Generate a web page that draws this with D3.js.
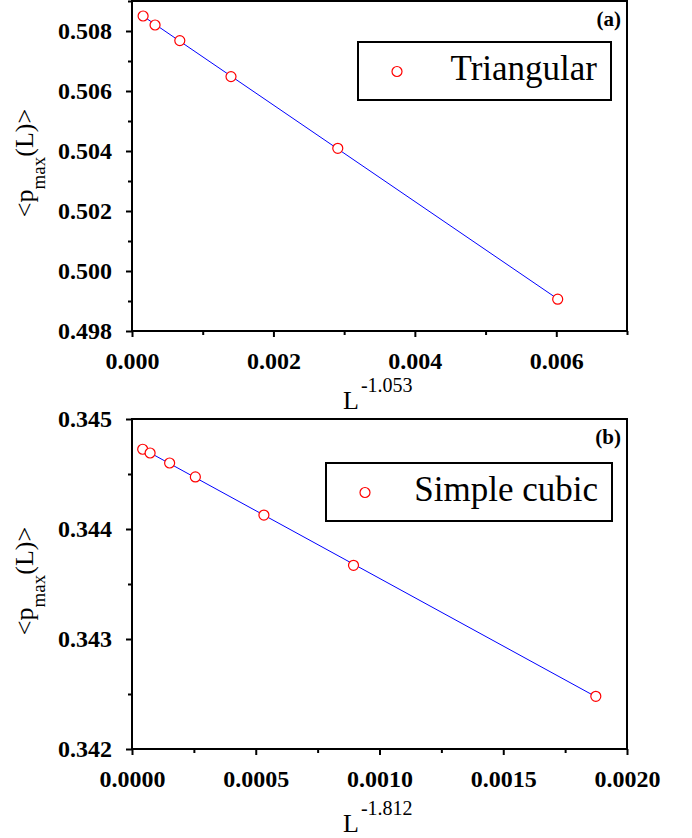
<!DOCTYPE html>
<html><head><meta charset="utf-8">
<script src="https://cdn.jsdelivr.net/npm/d3@7"></script>
<style>body{margin:0;background:#fff}svg{display:block}
svg text{font-family:"Liberation Serif","Times New Roman",Times,"DejaVu Serif",serif;}
</style>
</head><body><svg id="c" width="692" height="838"></svg>
<script>
// ---- data ----
const triX = [0.000157, 0.000326, 0.000676, 0.00140, 0.00291, 0.00602];
const triY = [0.50850, 0.50820, 0.50768, 0.50648, 0.50409, 0.49906];
const scX = [0.0000432, 0.0000731, 0.000152, 0.000256, 0.000533, 0.000895, 0.001874];
const scY = [0.344725, 0.344691, 0.344600, 0.344473, 0.344127, 0.343670, 0.342479];
const triXTicks = [0, 0.002, 0.004, 0.006];
const triXMinor = [0.001, 0.003, 0.005, 0.007];
const triYTicks = [0.498, 0.500, 0.502, 0.504, 0.506, 0.508];
const triYMinor = [0.499, 0.501, 0.503, 0.505, 0.507, 0.509];
const scXTicks = [0, 0.0005, 0.0010, 0.0015, 0.0020];
const scXMinor = [0.00025, 0.00075, 0.00125, 0.00175];
const scYTicks = [0.342, 0.343, 0.344, 0.345];
const scYMinor = [0.3425, 0.3435, 0.3445];
const legendNames = ["Triangular", "Simple cubic"];
const panelLetters = ["(a)", "(b)"];
const xExponents = ["-1.053", "-1.812"];

const svg = d3.select("#c");
svg.append("rect").attr("width",692).attr("height",838).attr("fill","#fff");

const panels = [
  {xs:triX, ys:triY, xd:[0,0.007], yd:[0.498,0.509], top:1, bottom:331,
   xt:triXTicks, xm:triXMinor, yt:triYTicks, ym:triYMinor, xf:d3.format(".3f"), yf:d3.format(".3f"),
   leg:[358,42,611,100], name:legendNames[0], letter:panelLetters[0], exp:xExponents[0], xlabY:409, ylabC:163},
  {xs:scX, ys:scY, xd:[0,0.002], yd:[0.342,0.345], top:419, bottom:749,
   xt:scXTicks, xm:scXMinor, yt:scYTicks, ym:scYMinor, xf:d3.format(".4f"), yf:d3.format(".3f"),
   leg:[326,463,612,521], name:legendNames[1], letter:panelLetters[1], exp:xExponents[1], xlabY:832, ylabC:581}
];
const L = 132, R = 627;

panels.forEach(p => {
  const x = d3.scaleLinear().domain(p.xd).range([L,R]);
  const y = d3.scaleLinear().domain(p.yd).range([p.bottom,p.top]);
  const g = svg.append("g");

  // fit line (least squares from the data)
  const n = p.xs.length, mx = d3.mean(p.xs), my = d3.mean(p.ys);
  let sxy=0, sxx=0;
  for (let i=0;i<n;i++){ sxy+=(p.xs[i]-mx)*(p.ys[i]-my); sxx+=(p.xs[i]-mx)**2; }
  const b = sxy/sxx, a = my - b*mx;
  const ext = d3.extent(p.xs);
  g.append("path").datum(ext)
    .attr("d", d3.line().x(d=>x(d)).y(d=>y(a+b*d)))
    .attr("stroke","#0000ff").attr("stroke-width",1).attr("fill","none");

  // frame
  g.append("rect").attr("x",L).attr("y",p.top).attr("width",R-L).attr("height",p.bottom-p.top)
    .attr("fill","none").attr("stroke","#000").attr("stroke-width",2);

  // axes
  const ax = g.append("g").attr("transform",`translate(0,${p.bottom})`)
    .call(d3.axisBottom(x).tickValues(p.xt).tickFormat(p.xf).tickSize(6).tickPadding(15));
  const axm = g.append("g").attr("transform",`translate(0,${p.bottom})`)
    .call(d3.axisBottom(x).tickValues(p.xm).tickFormat("").tickSize(4));
  const ay = g.append("g").attr("transform",`translate(${L},0)`)
    .call(d3.axisLeft(y).tickValues(p.yt).tickFormat(p.yf).tickSize(6).tickPadding(14));
  const aym = g.append("g").attr("transform",`translate(${L},0)`)
    .call(d3.axisLeft(y).tickValues(p.ym).tickFormat("").tickSize(4));
  [ax,axm,ay,aym].forEach(s=>{
    s.attr("font-family",null);
    s.select(".domain").remove();
    s.selectAll("line").attr("stroke","#000").attr("stroke-width",2);
    s.selectAll("text").attr("font-weight","bold")
      .attr("font-size",24).attr("fill","#000");
  });

  // points
  g.selectAll("circle.pt").data(d3.range(n)).join("circle").attr("class","pt")
    .attr("cx",i=>x(p.xs[i])).attr("cy",i=>y(p.ys[i])).attr("r",5)
    .attr("fill","#fff").attr("stroke","#ff0000").attr("stroke-width",1.2);

  // legend
  const [lx0,ly0,lx1,ly1] = p.leg;
  g.append("rect").attr("x",lx0).attr("y",ly0).attr("width",lx1-lx0).attr("height",ly1-ly0)
    .attr("fill","#fff").attr("stroke","#000").attr("stroke-width",2);
  g.append("circle").attr("cx",lx0+39).attr("cy",ly0+29.5).attr("r",5)
    .attr("fill","#fff").attr("stroke","#ff0000").attr("stroke-width",1.2);
  g.append("text").attr("x",lx1-14).attr("y",ly0+38).attr("text-anchor","end")
    .attr("font-size",35).text(p.name);

  // panel letter
  g.append("text").attr("x",R-6).attr("y",p.top+25).attr("text-anchor","end")
    .attr("font-weight","bold").attr("font-size",21).text(p.letter);

  // x label
  const xl = g.append("text").attr("x",343).attr("y",p.xlabY).attr("font-size",26);
  xl.append("tspan").text("L");
  xl.append("tspan").attr("dy",-17.5).attr("dx",2).attr("font-size",20).text(p.exp);

  // y label
  const yl = g.append("text").attr("transform",`translate(33,${p.ylabC}) rotate(-90)`)
    .attr("text-anchor","middle").attr("font-size",26);
  yl.append("tspan").text("<p");
  yl.append("tspan").attr("dy",12).attr("font-size",19).text("max");
  yl.append("tspan").attr("dy",-12).text("(L)>");
});
</script></body></html>
